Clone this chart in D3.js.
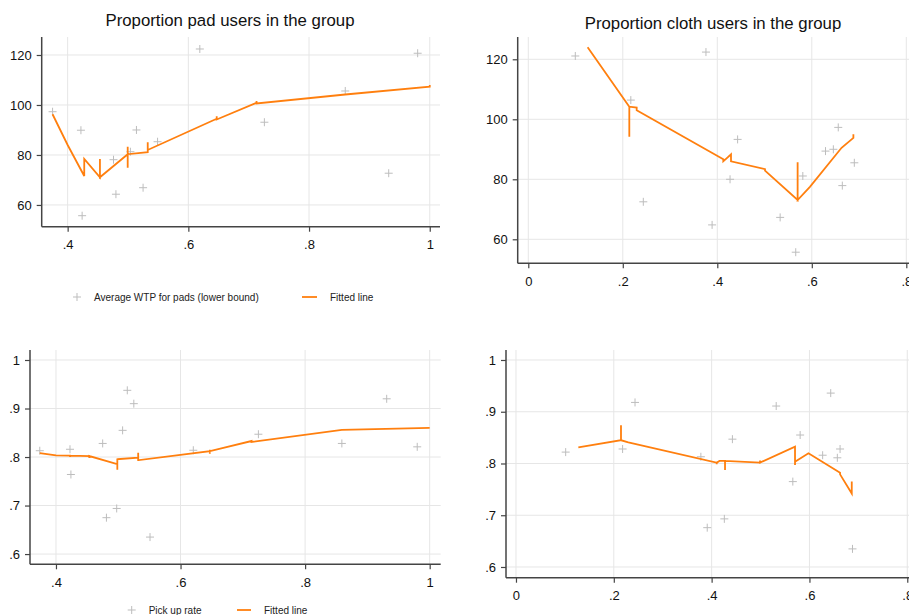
<!DOCTYPE html>
<html>
<head>
<meta charset="utf-8">
<script src="https://cdn.jsdelivr.net/npm/d3@7"></script>
<style>
  body { margin: 0; background: #fff; }
  svg { display: block; overflow: hidden; font-family: Arial, "Liberation Sans", sans-serif; }
</style>
</head>
<body>
<div id="vis"></div>
<script>
// data
// top left: WTP vs proportion pad users
const padX   = [0.375, 0.422, 0.424, 0.476, 0.480, 0.504, 0.514, 0.525, 0.549, 0.619, 0.726, 0.860, 0.932, 0.980];
const padWTP = [97.3, 89.9, 55.7, 78.1, 64.3, 81.3, 90.0, 66.9, 85.3, 122.4, 93.1, 105.6, 72.7, 120.7];
const fitPadX   = [0.375, 0.4, 0.4275, 0.4275, 0.4535, 0.4535, 0.4535, 0.4995, 0.4995, 0.4995, 0.4995, 0.5327, 0.5327, 0.5327, 0.647, 0.647, 0.647, 0.713, 0.713, 0.713, 0.86, 1.0, 1.0];
const fitPadWTP = [96.3, 84, 71.6, 78.4, 71.1, 78.4, 71.1, 80.3, 83.3, 74.9, 80.3, 81.1, 85.1, 82.0, 94.5, 95.5, 94.2, 100.9, 101.6, 100.6, 104.2, 107.3, 108.0];

// top right: WTP vs proportion cloth users
const clothX   = [0.0995, 0.217, 0.2434, 0.376, 0.389, 0.427, 0.443, 0.533, 0.566, 0.581, 0.629, 0.6456, 0.656, 0.6646, 0.690];
const clothWTP = [121.1, 106.4, 72.5, 122.4, 64.8, 80, 93.3, 67.3, 55.7, 81.1, 89.4, 90, 97.3, 77.9, 85.5];
const fitClothX   = [0.1256, 0.2138, 0.2138, 0.2138, 0.2294, 0.2294, 0.4127, 0.4127, 0.4185, 0.429, 0.429, 0.501, 0.501, 0.570, 0.570, 0.570, 0.596, 0.663, 0.688, 0.688];
const fitClothWTP = [124, 104.2, 94.2, 104.2, 103.9, 103, 86.7, 86.0, 86.8, 88.3, 86.0, 83.4, 82.9, 73.1, 85.7, 73.1, 77.5, 90.5, 93.8, 95];

// bottom left: pick up rate vs proportion pad users
const padX2  = [0.374, 0.4225, 0.424, 0.475, 0.481, 0.4975, 0.507, 0.5145, 0.525, 0.551, 0.6205, 0.725, 0.859, 0.931, 0.980];
const pickup = [0.813, 0.816, 0.764, 0.828, 0.675, 0.694, 0.855, 0.9375, 0.910, 0.635, 0.814, 0.847, 0.828, 0.920, 0.821];
const fitPadX2  = [0.374, 0.4, 0.4225, 0.4225, 0.4225, 0.4535, 0.4535, 0.4535, 0.4985, 0.4985, 0.4985, 0.4985, 0.532, 0.532, 0.532, 0.532, 0.647, 0.647, 0.647, 0.647, 0.714, 0.714, 0.859, 1.0];
const fitPickup = [0.808, 0.8035, 0.803, 0.800, 0.803, 0.802, 0.798, 0.802, 0.7855, 0.774, 0.797, 0.7955, 0.7986, 0.809, 0.792, 0.7935, 0.812, 0.815, 0.807, 0.812, 0.833, 0.831, 0.856, 0.860];

// bottom right: pick up rate vs proportion cloth users
const clothX2 = [0.1016, 0.218, 0.2434, 0.378, 0.391, 0.426, 0.4425, 0.532, 0.566, 0.581, 0.627, 0.6435, 0.657, 0.6626, 0.688];
const pickup2 = [0.822, 0.828, 0.918, 0.813, 0.676, 0.693, 0.847, 0.911, 0.765, 0.855, 0.816, 0.936, 0.811, 0.828, 0.635];
const fitClothX2 = [0.1275, 0.2147, 0.2147, 0.2147, 0.2297, 0.4104, 0.4104, 0.4104, 0.416, 0.4274, 0.4274, 0.4274, 0.499, 0.499, 0.499, 0.5705, 0.5705, 0.5705, 0.598, 0.6626, 0.6626, 0.6865, 0.6865];
const fitPickup2 = [0.831, 0.845, 0.874, 0.845, 0.841, 0.8016, 0.7986, 0.8016, 0.805, 0.805, 0.7874, 0.805, 0.8016, 0.806, 0.8016, 0.8325, 0.797, 0.8035, 0.8197, 0.782, 0.779, 0.742, 0.765];

// tick labels
const padTicks   = [0.4, 0.6, 0.8, 1];
const clothTicks = [0, 0.2, 0.4, 0.6, 0.8];
const wtpTicks   = [60, 80, 100, 120];
const rateTicks  = [0.6, 0.7, 0.8, 0.9, 1];

const WIDTH = 909;
const HEIGHT = 615;
const ORANGE = "#ff7f0e";
const GRID = "#e6e6e6";
const AXIS = "#444";

const SVG = d3.select("#vis").append("svg")
  .attr("width", WIDTH).attr("height", HEIGHT);

// strip the leading zero like Stata does
function fmt(v) {
  return String(v).replace(/^0\./, ".");
}

function drawPanel(p) {
  const x = d3.scaleLinear().domain(p.xDomain).range([p.left, p.right]);
  const y = d3.scaleLinear().domain(p.yDomain).range([p.bottom, p.top]);
  const g = SVG.append("g");

  // grid
  g.selectAll(".hgrid").data(p.yTicks).enter().append("line")
    .attr("x1", p.left).attr("x2", p.right)
    .attr("y1", d => y(d)).attr("y2", d => y(d))
    .attr("stroke", GRID).attr("stroke-width", 1);
  g.selectAll(".vgrid").data(p.xTicks).enter().append("line")
    .attr("x1", d => x(d)).attr("x2", d => x(d))
    .attr("y1", p.top).attr("y2", p.bottom)
    .attr("stroke", GRID).attr("stroke-width", 1);

  // axes
  const xAxis = d3.axisBottom(x).tickValues(p.xTicks).tickSize(5).tickPadding(p.xPad).tickFormat(fmt);
  const yAxis = d3.axisLeft(y).tickValues(p.yTicks).tickSize(5).tickPadding(5).tickFormat(fmt);
  const gx = g.append("g").attr("transform", `translate(0,${p.bottom})`).call(xAxis);
  const gy = g.append("g").attr("transform", `translate(${p.left},0)`).call(yAxis);
  [gx, gy].forEach(a => {
    a.select(".domain").attr("stroke", AXIS).attr("stroke-width", 1.5);
    a.selectAll(".tick line").attr("stroke", AXIS).attr("stroke-width", 1.2);
    a.selectAll("text").attr("fill", "#111").style("font-size", "13px");
  });
  // plain axis lines, no end caps
  gx.select(".domain").attr("d", `M${p.left},0H${p.right}`);
  gy.select(".domain").attr("d", `M0,${p.top}V${p.bottom}`);

  // scatter (plus markers)
  g.selectAll(".pt").data(p.sx.map((v, i) => [v, p.sy[i]])).enter().append("path")
    .attr("d", "M-4,0H4M0,-4V4")
    .attr("transform", d => `translate(${x(d[0])},${y(d[1])})`)
    .attr("stroke", "#bdbdbd").attr("stroke-width", 1).attr("fill", "none");

  // fitted line
  const line = d3.line().x(d => x(d[0])).y(d => y(d[1]));
  g.append("path")
    .datum(p.fx.map((v, i) => [v, p.fy[i]]))
    .attr("d", line)
    .attr("fill", "none").attr("stroke", ORANGE).attr("stroke-width", 1.8)
    .attr("stroke-linejoin", "miter");

  if (p.title) {
    g.append("text").attr("x", p.titleX).attr("y", p.titleY)
      .attr("text-anchor", "middle").attr("fill", "#111")
      .style("font-size", "16.8px").text(p.title);
  }

  if (p.legend) {
    const lg = g.append("g").style("font-size", "10px");
    lg.append("path").attr("d", "M-4,0H4M0,-4V4")
      .attr("transform", `translate(${p.legend.x},${p.legend.y})`)
      .attr("stroke", "#bdbdbd").attr("fill", "none");
    lg.append("text").attr("x", p.legend.x + 17).attr("y", p.legend.y + 3.5)
      .attr("fill", "#222").text(p.legend.label);
    lg.append("line")
      .attr("x1", p.legend.lx).attr("x2", p.legend.lx + p.legend.lw)
      .attr("y1", p.legend.y).attr("y2", p.legend.y)
      .attr("stroke", ORANGE).attr("stroke-width", 1.8);
    lg.append("text").attr("x", p.legend.lx + p.legend.lw + 13).attr("y", p.legend.y + 3.5)
      .attr("fill", "#222").text("Fitted line");
  }
}

drawPanel({
  left: 41.7, right: 440, top: 37, bottom: 226.7,
  xDomain: [0.357, 1.017], yDomain: [51.3, 127.2],
  xTicks: padTicks, yTicks: wtpTicks, xPad: 8,
  sx: padX, sy: padWTP, fx: fitPadX, fy: fitPadWTP,
  title: "Proportion pad users in the group", titleX: 230, titleY: 26,
  legend: { x: 77, y: 297, label: "Average WTP for pads (lower bound)", lx: 302, lw: 15 }
});

drawPanel({
  left: 517.7, right: 915, top: 37, bottom: 263.3,
  xDomain: [-0.0224, 0.8184], yDomain: [52, 127.43],
  xTicks: clothTicks, yTicks: wtpTicks, xPad: 8,
  sx: clothX, sy: clothWTP, fx: fitClothX, fy: fitClothWTP,
  title: "Proportion cloth users in the group", titleX: 713, titleY: 29
});

drawPanel({
  left: 30, right: 440.7, top: 350, bottom: 564.3,
  xDomain: [0.3583, 1.0177], yDomain: [0.5789, 1.0206],
  xTicks: padTicks, yTicks: rateTicks, xPad: 8,
  sx: padX2, sy: pickup, fx: fitPadX2, fy: fitPickup,
  legend: { x: 131.7, y: 610, label: "Pick up rate", lx: 237, lw: 14 }
});

drawPanel({
  left: 506, right: 915, top: 350, bottom: 577.7,
  xDomain: [-0.0204, 0.8158], yDomain: [0.5793, 1.0193],
  xTicks: clothTicks, yTicks: rateTicks, xPad: 8,
  sx: clothX2, sy: pickup2, fx: fitClothX2, fy: fitPickup2
});
</script>
</body>
</html>
